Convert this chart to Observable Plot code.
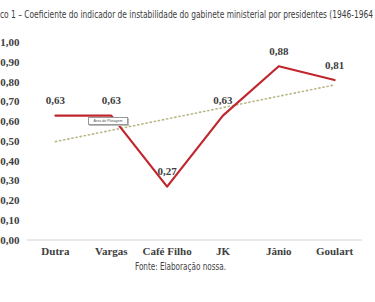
<!DOCTYPE html>
<html>
<head>
<meta charset="utf-8">
<script src="https://cdn.jsdelivr.net/npm/d3@7"></script>
<script src="https://cdn.jsdelivr.net/npm/@observablehq/plot@0.6"></script>
<style>
  html, body { margin: 0; padding: 0; background: #fff; }
  #wrap { position: relative; width: 375px; height: 302px; overflow: hidden; background: #fff; }
  #title { position: absolute; left: 0; top: 8px; white-space: nowrap; font-family: "Liberation Sans Narrow", "DejaVu Sans Condensed", sans-serif; font-size: 11px; color: #3c3c3c; transform-origin: 0 0; line-height: 14px; }
  #chart { position: absolute; left: 0; top: 30px; }
  #caption { position: absolute; left: 135px; top: 260px; white-space: nowrap; font-family: "Liberation Sans Narrow", "DejaVu Sans Condensed", sans-serif; font-size: 11px; color: #444; line-height: 14px; transform-origin: 0 0; }
  #tip { position: absolute; left: 88px; top: 117px; width: 38px; height: 6px; border: 0.6px solid #999; background: #fff; font-family: "Liberation Sans", sans-serif; font-size: 3.6px; line-height: 6px; color: #555; text-align: center; white-space: nowrap; box-shadow: 0.5px 0.5px 0.5px #bbb; }
</style>
</head>
<body>
<div id="wrap">
  <div id="title"></div>
  <div id="chart"></div>
  <div id="tip">Área de Plotagem</div>
  <div id="caption">Fonte: Elaboração nossa.</div>
</div>
<script>
const titleText = "co 1 – Coeficiente do indicador de instabilidade do gabinete ministerial por presidentes (1946-1964";

const presidents = ["Dutra", "Vargas", "Café Filho", "JK", "Jânio", "Goulart"];
const coefficients = [0.63, 0.63, 0.27, 0.63, 0.88, 0.81];
const yTicks = [0, 0.1, 0.2, 0.3, 0.4, 0.5, 0.6, 0.7, 0.8, 0.9, 1.0];

const fmt = v => v.toFixed(2).replace(".", ",");
const data = presidents.map((p, i) => ({ i, president: p, value: coefficients[i] }));

const serif = "'Liberation Serif', 'DejaVu Serif', serif";

const chart = Plot.plot({
  width: 375,
  height: 240,
  marginLeft: 27,
  marginRight: 13,
  marginTop: 12,
  marginBottom: 30.5,
  style: { fontFamily: serif, fontSize: "11px", color: "#404040", background: "transparent", overflow: "visible" },
  x: {
    domain: [-0.5, presidents.length - 0.5],
    ticks: presidents.map((_, i) => i),
    tickFormat: i => presidents[i],
    tickSize: 0,
    tickPadding: 7,
    label: null
  },
  y: {
    domain: [0, 1],
    ticks: yTicks,
    tickFormat: fmt,
    tickSize: 0,
    tickPadding: 8,
    label: null
  },
  marks: [
    Plot.ruleY([0], { stroke: "#d4d4d4", strokeWidth: 1 }),
    Plot.linearRegressionY(data, { x: "i", y: "value", ci: 0, stroke: "#b8b785", strokeWidth: 1.6, strokeDasharray: "1.2,3", strokeOpacity: 1 }),
    Plot.line(data, { x: "i", y: "value", stroke: "#c0272d", strokeWidth: 2.2 }),
    Plot.text(data, { x: "i", y: "value", text: d => fmt(d.value), dy: -15, fill: "#404040", fontSize: 11, fontWeight: "bold" })
  ]
});
chart.querySelectorAll("g[aria-label='x-axis tick label'], g[aria-label='y-axis tick label']").forEach(n => n.setAttribute("font-weight", "bold"));
document.getElementById("chart").appendChild(chart);

// fit a text element horizontally to a target width
function fitWidth(el, target) {
  const w = el.getBoundingClientRect().width;
  el.style.transform = `scaleX(${target / w})`;
}
const t = document.getElementById("title");
t.textContent = titleText;
fitWidth(t, 373);
fitWidth(document.getElementById("caption"), 91);
</script>
</body>
</html>
